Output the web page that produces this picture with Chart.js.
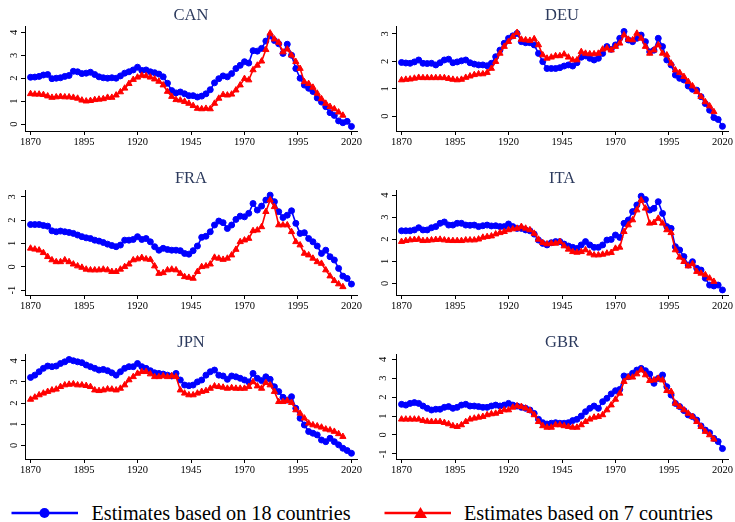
<!DOCTYPE html>
<html>
<head>
<meta charset="utf-8">
<script src="https://cdn.jsdelivr.net/npm/chart.js@4.4.1/dist/chart.umd.min.js"></script>
<style>
  html, body { margin: 0; padding: 0; background: #fff; }
  #wrap { position: relative; width: 735px; height: 522px; overflow: hidden; background: #fff; }
  canvas { position: absolute; }
  .ttl { position: absolute; width: 120px; text-align: center; font-family: "Liberation Serif", "Times New Roman", serif;
         font-size: 16.5px; line-height: 20px; color: #2d3b5e; }
  .leg { position: absolute; font-family: "Liberation Serif", "Times New Roman", serif; font-size: 20.2px;
         line-height: 24px; color: #000; white-space: nowrap; }
  .legsym { position: absolute; }
</style>
</head>
<body>
<div id="wrap"></div>
<script>
// ---------------- DATA ----------------
const YEARS_18 = [1870,1872,1874,1876,1878,1880,1882,1884,1886,1888,
  1890,1892,1894,1896,1898,1900,1902,1904,1906,1908,
  1910,1912,1914,1916,1918,1920,1922,1924,1926,1928,
  1930,1932,1934,1936,1938,1940,1942,1944,1946,1948,
  1950,1952,1954,1956,1958,1960,1962,1964,1966,1968,
  1970,1972,1974,1976,1978,1980,1982,1984,1986,1988,
  1990,1992,1994,1996,1998,2000,2002,2004,2006,2008,
  2010,2012,2014,2016,2018,2020];
const YEARS_7 = [1870,1872,1874,1876,1878,1880,1882,1884,1886,1888,
  1890,1892,1894,1896,1898,1900,1902,1904,1906,1908,
  1910,1912,1914,1916,1918,1920,1922,1924,1926,1928,
  1930,1932,1934,1936,1938,1940,1942,1944,1946,1948,
  1950,1952,1954,1956,1958,1960,1962,1964,1966,1968,
  1970,1972,1974,1976,1978,1980,1982,1984,1986,1988,
  1990,1992,1994,1996,1998,2000,2002,2004,2006,2008,
  2010,2012,2014,2016];
const X_TICKS = [1870,1895,1920,1945,1970,1995,2020];

const CAN_18 = [2.04,2.05,2.08,2.14,2.16,1.98,2.00,2.02,2.08,2.12,
  2.30,2.28,2.20,2.22,2.26,2.16,2.06,2.02,2.00,2.02,
  2.00,2.10,2.22,2.28,2.36,2.48,2.34,2.36,2.28,2.24,
  2.18,2.06,1.78,1.46,1.36,1.40,1.32,1.24,1.24,1.18,
  1.22,1.32,1.50,1.80,1.98,2.10,2.06,2.20,2.42,2.56,
  2.72,2.66,3.20,3.18,3.30,3.62,3.84,3.64,3.50,3.08,
  3.48,3.00,2.42,2.00,1.70,1.56,1.42,1.14,0.96,0.76,
  0.50,0.38,0.14,0.06,0.12,-0.10];
const CAN_7 = [1.32,1.30,1.30,1.28,1.22,1.16,1.18,1.20,1.18,1.18,
  1.16,1.12,1.04,1.00,1.02,1.06,1.08,1.10,1.16,1.16,
  1.26,1.40,1.56,1.76,1.94,2.04,2.12,2.10,2.04,1.96,
  1.86,1.70,1.42,1.20,1.06,1.04,0.98,0.90,0.80,0.68,
  0.66,0.68,0.66,0.90,1.12,1.28,1.26,1.30,1.48,1.70,
  1.98,1.92,2.36,2.56,2.74,3.24,3.96,3.70,3.56,3.14,
  3.26,3.00,2.72,2.42,1.84,1.76,1.60,1.34,1.10,0.90,
  0.76,0.66,0.52,0.38];

const DEU_18 = [1.96,1.94,1.93,1.98,2.05,1.93,1.92,1.93,1.87,1.95,
  2.05,2.08,1.95,1.98,2.02,2.05,1.95,1.90,1.87,1.87,
  1.84,1.93,2.17,2.41,2.66,2.84,2.93,3.02,2.72,2.68,
  2.68,2.60,2.29,1.99,1.74,1.74,1.74,1.77,1.83,1.87,
  1.83,1.95,2.15,2.20,2.11,2.05,2.11,2.29,2.54,2.44,
  2.60,2.84,3.09,2.78,2.72,2.84,2.96,2.72,2.35,2.41,
  2.84,2.54,2.05,1.87,1.50,1.38,1.32,1.10,0.98,0.95,
  0.71,0.46,0.22,-0.05,-0.12,-0.37];
const DEU_7 = [1.32,1.34,1.35,1.38,1.41,1.40,1.40,1.40,1.40,1.40,
  1.40,1.37,1.34,1.32,1.34,1.41,1.46,1.51,1.54,1.54,
  1.59,1.74,1.99,2.29,2.54,2.72,2.90,3.05,2.80,2.78,
  2.76,2.82,2.60,2.23,2.11,2.15,2.20,2.20,2.26,2.15,
  2.05,2.05,2.35,2.29,2.27,2.27,2.29,2.44,2.48,2.41,
  2.54,2.66,2.96,2.80,2.78,3.02,2.84,2.54,2.29,2.41,
  2.60,2.29,2.23,1.93,1.68,1.59,1.44,1.26,1.10,0.89,
  0.71,0.52,0.37,0.16];

const FRA_18 = [1.81,1.81,1.81,1.77,1.74,1.54,1.50,1.53,1.50,1.47,
  1.43,1.36,1.29,1.24,1.21,1.14,1.10,1.04,0.97,0.91,
  0.86,0.93,1.14,1.14,1.17,1.29,1.17,1.21,1.07,0.86,
  0.71,0.79,0.74,0.71,0.71,0.69,0.57,0.54,0.69,0.89,
  1.26,1.31,1.50,1.79,1.96,1.89,1.64,1.79,2.03,2.17,
  2.14,2.29,2.71,2.43,2.60,2.86,3.07,2.79,2.36,2.11,
  2.21,2.40,1.86,1.43,1.46,1.21,1.07,0.89,0.57,0.71,
  0.43,0.29,-0.07,-0.40,-0.50,-0.74];
const FRA_7 = [0.79,0.75,0.71,0.60,0.43,0.29,0.21,0.21,0.29,0.21,
  0.11,0.03,-0.03,-0.11,-0.14,-0.14,-0.14,-0.11,-0.14,-0.21,
  -0.21,-0.11,0.00,0.11,0.29,0.33,0.39,0.33,0.31,0.03,
  -0.29,-0.26,-0.14,-0.11,-0.14,-0.29,-0.43,-0.46,-0.50,-0.21,
  0.00,0.03,0.11,0.40,0.36,0.31,0.36,0.50,0.74,1.07,
  1.14,1.21,1.54,1.57,1.71,2.36,2.86,2.57,1.79,1.79,
  1.79,1.50,1.07,0.93,0.57,0.50,0.36,0.21,0.14,-0.14,
  -0.40,-0.60,-0.74,-0.86];

const ITA_18 = [2.38,2.38,2.38,2.42,2.52,2.42,2.42,2.52,2.57,2.72,
  2.78,2.64,2.64,2.72,2.72,2.64,2.63,2.64,2.57,2.61,
  2.64,2.60,2.61,2.57,2.57,2.69,2.57,2.49,2.49,2.42,
  2.38,2.23,1.96,1.81,1.74,1.84,1.89,1.89,1.78,1.69,
  1.63,1.58,1.74,1.89,1.74,1.63,1.63,1.74,1.96,1.99,
  2.19,2.08,2.72,2.87,3.25,3.55,3.95,3.80,3.32,3.40,
  3.70,3.17,2.57,2.49,1.66,1.51,1.21,0.83,0.98,0.68,
  0.60,0.23,-0.08,-0.12,-0.08,-0.30];
const ITA_7 = [1.89,1.93,1.96,1.98,1.99,1.93,1.94,1.96,1.98,1.99,
  1.96,1.94,1.93,1.93,1.93,1.96,1.96,1.96,2.00,2.08,
  2.11,2.14,2.23,2.29,2.34,2.42,2.46,2.49,2.57,2.49,
  2.42,2.26,1.99,1.84,1.78,1.81,1.81,1.89,1.69,1.54,
  1.43,1.40,1.43,1.51,1.36,1.28,1.28,1.31,1.36,1.39,
  1.58,1.63,2.34,2.64,2.87,3.32,3.77,3.40,2.72,2.75,
  2.94,2.72,2.42,2.29,1.51,1.18,0.98,0.78,0.88,0.53,
  0.45,0.38,0.23,0.08];

const JPN_18 = [3.21,3.32,3.48,3.64,3.75,3.72,3.75,3.87,3.95,4.06,
  4.00,3.95,3.91,3.80,3.72,3.64,3.56,3.59,3.53,3.43,
  3.32,3.48,3.64,3.72,3.72,3.87,3.72,3.64,3.53,3.43,
  3.40,3.37,3.32,3.28,3.40,3.09,2.85,2.82,2.85,3.00,
  3.09,3.32,3.48,3.56,3.32,3.28,3.12,3.28,3.24,3.17,
  3.09,3.00,3.40,3.17,3.06,3.24,3.12,2.77,2.54,2.27,
  2.14,2.30,1.75,1.28,0.96,0.65,0.57,0.49,0.25,0.17,
  0.33,0.17,0.02,-0.14,-0.25,-0.38];
const JPN_7 = [2.17,2.27,2.38,2.46,2.54,2.61,2.65,2.77,2.85,2.88,
  2.90,2.85,2.85,2.82,2.77,2.61,2.58,2.61,2.66,2.65,
  2.61,2.69,2.85,3.09,3.24,3.40,3.48,3.48,3.37,3.24,
  3.24,3.28,3.24,3.28,3.24,2.61,2.46,2.38,2.38,2.46,
  2.54,2.58,2.69,2.80,2.77,2.74,2.69,2.72,2.69,2.69,
  2.69,2.77,3.00,2.80,2.69,2.96,2.85,2.54,2.06,2.06,
  2.11,2.02,1.67,1.51,1.28,1.04,0.96,0.91,0.85,0.76,
  0.72,0.65,0.54,0.41];

const GBR_18 = [1.62,1.58,1.67,1.71,1.67,1.53,1.41,1.32,1.36,1.36,
  1.46,1.50,1.41,1.46,1.58,1.62,1.53,1.53,1.50,1.46,
  1.46,1.53,1.58,1.53,1.58,1.67,1.58,1.53,1.46,1.41,
  1.32,1.14,0.83,0.65,0.58,0.62,0.65,0.62,0.62,0.65,
  0.76,0.83,1.00,1.23,1.41,1.53,1.41,1.76,1.94,2.17,
  2.34,2.41,3.12,3.08,3.26,3.43,3.52,3.40,3.22,2.73,
  2.99,3.17,2.55,2.11,1.67,1.50,1.29,1.06,0.97,0.79,
  0.48,0.26,0.12,-0.18,-0.35,-0.72];
const GBR_7 = [0.83,0.83,0.83,0.83,0.83,0.76,0.72,0.70,0.70,0.70,
  0.65,0.58,0.48,0.44,0.53,0.70,0.83,0.88,0.93,0.97,
  1.06,1.11,1.14,1.23,1.32,1.32,1.46,1.53,1.50,1.41,
  1.29,1.06,0.70,0.48,0.40,0.40,0.53,0.53,0.48,0.44,
  0.40,0.40,0.53,0.70,0.83,0.93,0.97,1.06,1.32,1.58,
  1.88,2.20,2.82,3.05,3.05,3.22,3.43,3.17,2.87,2.90,
  2.99,2.90,2.34,2.29,1.67,1.50,1.32,1.14,0.97,0.70,
  0.44,0.18,0.00,-0.23];

const TICKS_CAN = [0,1,2,3,4];
const TICKS_DEU = [0,1,2,3];
const TICKS_FRA = [-1,0,1,2,3];
const TICKS_ITA = [0,1,2,3,4];
const TICKS_JPN = [0,1,2,3,4];
const TICKS_GBR = [-1,0,1,2,3,4];

const LABEL_18 = 'Estimates based on 18 countries';
const LABEL_7 = 'Estimates based on 7 countries';

// ---------------- LAYOUT ----------------
const PANELS = [
  { name: 'CAN', b: CAN_18, r: CAN_7, ticks: TICKS_CAN, min: -0.30, max: 4.275, col: 0, row: 0 },
  { name: 'DEU', b: DEU_18, r: DEU_7, ticks: TICKS_DEU, min: -0.54, max: 3.29, col: 1, row: 0 },
  { name: 'FRA', b: FRA_18, r: FRA_7, ticks: TICKS_FRA, min: -1.21, max: 3.29, col: 0, row: 1 },
  { name: 'ITA', b: ITA_18, r: ITA_7, ticks: TICKS_ITA, min: -0.53, max: 4.23, col: 1, row: 1 },
  { name: 'JPN', b: JPN_18, r: JPN_7, ticks: TICKS_JPN, min: -0.65, max: 4.32, col: 0, row: 2 },
  { name: 'GBR', b: GBR_18, r: GBR_7, ticks: TICKS_GBR, min: -1.27, max: 4.28, col: 1, row: 2 }
];

const wrap = document.getElementById('wrap');
const FONT = '"Liberation Serif", "Times New Roman", serif';

PANELS.forEach(p => {
  const cv = document.createElement('canvas');
  cv.width = 367; cv.height = 164;
  cv.style.left = (p.col * 371) + 'px';
  cv.style.top = (p.row * 164) + 'px';
  wrap.appendChild(cv);

  const t = document.createElement('div');
  t.className = 'ttl';
  t.textContent = p.name;
  t.style.left = (p.col * 371 + 191 - 60) + 'px';
  t.style.top = Math.round(5 + p.row * 163.4) + 'px';
  wrap.appendChild(t);

  const axisGrid = { display: true, drawOnChartArea: false, drawTicks: true, tickLength: 4, color: '#000', lineWidth: 1 };
  new Chart(cv.getContext('2d'), {
    type: 'line',
    data: {
      datasets: [
        { label: LABEL_18, data: YEARS_18.map((y, i) => ({ x: y, y: p.b[i] })),
          borderColor: '#0000ff', backgroundColor: '#0000ff', borderWidth: 1.6,
          pointStyle: 'circle', pointRadius: 3.0, pointBorderWidth: 1, tension: 0, order: 2 },
        { label: LABEL_7, data: YEARS_7.map((y, i) => ({ x: y, y: p.r[i] })),
          borderColor: '#ff0000', backgroundColor: '#ff0000', borderWidth: 1.6,
          pointStyle: 'triangle', pointRadius: 3.6, pointBorderWidth: 1, tension: 0, order: 1 }
      ]
    },
    options: {
      responsive: false, animation: false, events: [],
      layout: { padding: { top: 26, right: 10, left: 0, bottom: 0 } },
      plugins: { legend: { display: false }, tooltip: { enabled: false }, title: { display: false } },
      scales: {
        x: {
          type: 'linear', min: 1867.4, max: 2022.6,
          afterBuildTicks: s => { s.ticks = X_TICKS.map(v => ({ value: v })); },
          afterFit: s => { s.height = 33; },
          grid: axisGrid, border: { display: true, color: '#000', width: 1 },
          ticks: { font: { family: FONT, size: 10.5 }, color: '#000', padding: 1, maxRotation: 0, minRotation: 0, autoSkip: false,
                   callback: v => String(v) }
        },
        y: {
          type: 'linear', min: p.min, max: p.max,
          afterBuildTicks: s => { s.ticks = p.ticks.map(v => ({ value: v })); },
          afterFit: s => { s.width = 25; },
          grid: axisGrid, border: { display: true, color: '#000', width: 1 },
          ticks: { font: { family: FONT, size: 10.5 }, color: '#000', padding: 4, minRotation: 90, maxRotation: 90,
                   crossAlign: 'center', autoSkip: false, callback: v => String(v) }
        }
      }
    }
  });
});

// ---------------- LEGEND ----------------
function legendItem(x, color, shape, text, textX) {
  const ns = 'http://www.w3.org/2000/svg';
  const svg = document.createElementNS(ns, 'svg');
  svg.setAttribute('width', '70'); svg.setAttribute('height', '16');
  svg.setAttribute('class', 'legsym');
  svg.style.left = x + 'px'; svg.style.top = '505px';
  const ln = document.createElementNS(ns, 'line');
  ln.setAttribute('x1', '0.5'); ln.setAttribute('x2', '67'); ln.setAttribute('y1', '8'); ln.setAttribute('y2', '8');
  ln.setAttribute('stroke', color); ln.setAttribute('stroke-width', '2.5');
  svg.appendChild(ln);
  let m;
  if (shape === 'circle') {
    m = document.createElementNS(ns, 'circle');
    m.setAttribute('cx', '33.5'); m.setAttribute('cy', '8'); m.setAttribute('r', '5');
  } else {
    m = document.createElementNS(ns, 'polygon');
    m.setAttribute('points', '36.5,2 43,13 30,13');
  }
  m.setAttribute('fill', color);
  svg.appendChild(m);
  wrap.appendChild(svg);
  const d = document.createElement('div');
  d.className = 'leg';
  d.textContent = text;
  d.style.left = textX + 'px'; d.style.top = '501px';
  wrap.appendChild(d);
}
legendItem(11, '#0000ff', 'circle', LABEL_18, 91.5);
legendItem(384, '#ff0000', 'triangle', LABEL_7, 464);
</script>
</body>
</html>
